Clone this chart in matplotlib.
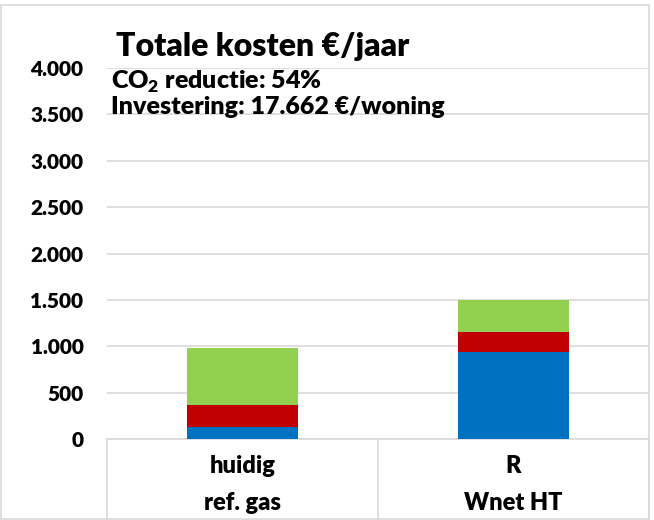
import matplotlib.pyplot as plt
from matplotlib.patches import Rectangle
from matplotlib.lines import Line2D

plt.rcParams["font.family"] = ["Lato", "DejaVu Sans"]
plt.rcParams["font.weight"] = 800
plt.rcParams["mathtext.fontset"] = "custom"
plt.rcParams["mathtext.rm"] = "Lato:weight=800"
plt.rcParams["mathtext.bf"] = "Lato:weight=800"

# data
top_labels = ["huidig", "R"]
bottom_labels = ["ref. gas", "Wnet HT"]
blue_vals = [136, 940]
red_vals = [233, 215]
green_vals = [610, 344]
yticks = [0, 500, 1000, 1500, 2000, 2500, 3000, 3500, 4000]

W, H = 654, 520
fig = plt.figure(figsize=(W / 100, H / 100), dpi=100)


def fx(px):
    return px / W


def fy(py):
    return 1 - py / H


ax = fig.add_axes([fx(107), fy(439.3), fx(649) - fx(107), fy(67.7) - fy(439.3)])

grid_col = "#d9d9d9"
x = range(len(top_labels))
bw = 0.406
ax.bar(x, blue_vals, bw, color="#0070C0", zorder=3)
ax.bar(x, red_vals, bw, bottom=blue_vals, color="#C00000", zorder=3)
bottoms = [b + r for b, r in zip(blue_vals, red_vals)]
ax.bar(x, green_vals, bw, bottom=bottoms, color="#92D050", zorder=3)

ax.set_xlim(-0.5, 1.5)
ax.set_ylim(0, 4000)
ax.set_yticks(yticks)
ax.set_yticklabels([f"{v:,}".replace(",", ".") for v in yticks])
ax.tick_params(axis="y", length=0, pad=17, labelsize=15)
ax.set_xticks([])
ax.grid(axis="y", color=grid_col, linewidth=1.2, zorder=0)
for s in ["top", "left", "right"]:
    ax.spines[s].set_visible(False)
ax.spines["bottom"].set_color(grid_col)
ax.spines["bottom"].set_linewidth(1.2)

# category box lines
for px in [107, 377.7, 648.5]:
    fig.add_artist(Line2D([fx(px), fx(px)], [fy(439.3), fy(519)],
                          color=grid_col, linewidth=1.2))

# category labels
for i in x:
    cx = fx(107) + (i + 0.5) / 2 * (fx(649) - fx(107))
    fig.text(cx, fy(473), top_labels[i], ha="center", va="baseline", fontsize=17)
    fig.text(cx, fy(510), bottom_labels[i], ha="center", va="baseline", fontsize=17)

# chart frame
fig.add_artist(Rectangle((fx(0.5), fy(519)), fx(648.5) - fx(0.5), fy(5) - fy(519),
                         fill=False, edgecolor=grid_col, linewidth=1.2))

fig.text(fx(116), fy(56), "Totale kosten €/jaar", fontsize=23, va="baseline")
fig.text(fx(111), fy(89), r"CO$_\mathregular{2}$ reductie: 54%", fontsize=18, va="baseline")
fig.text(fx(111), fy(114), "Investering: 17.662 €/woning", fontsize=18, va="baseline")

fig.savefig("out.png", dpi=100)
